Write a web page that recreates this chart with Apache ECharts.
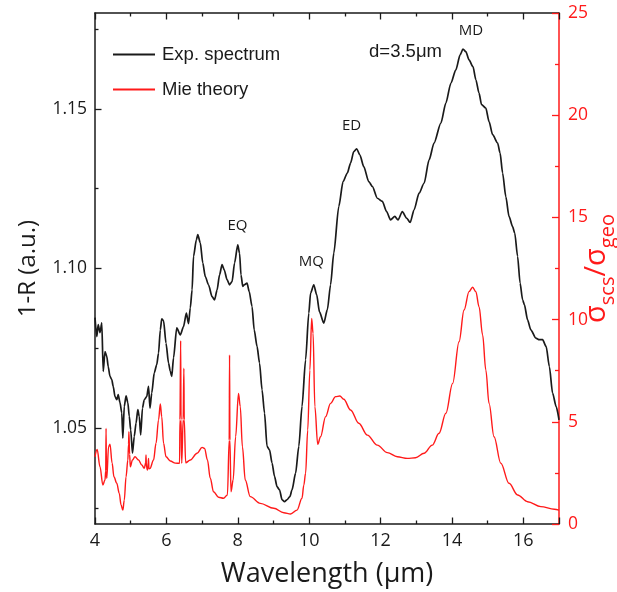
<!DOCTYPE html>
<html>
<head>
<meta charset="utf-8">
<script src="https://cdn.jsdelivr.net/npm/echarts@6/dist/echarts.min.js"></script>
<style>
  html, body { margin: 0; padding: 0; background: #fff; }
  #chart { width: 617px; height: 592px; }
</style>
</head>
<body>
<div id="chart"></div>
<script>
// Measured reflectance spectrum, 1-R (a.u.) against wavelength (µm)
const expWavelength = [
  4.00, 4.05, 4.09, 4.14, 4.19, 4.23, 4.28, 4.33, 4.37, 4.42, 4.47, 4.51, 4.56, 4.61, 4.65, 4.70,
  4.75, 4.78, 4.82, 4.87, 4.92, 4.96, 5.00, 5.05, 5.10, 5.15, 5.20, 5.24, 5.28, 5.33, 5.38, 5.45,
  5.50, 5.54, 5.59, 5.66, 5.73, 5.78, 5.83, 5.87, 5.92, 5.99, 6.06, 6.11, 6.15, 6.20, 6.29, 6.39,
  6.48, 6.56, 6.62, 6.67, 6.72, 6.76, 6.84, 6.88, 6.95, 7.02, 7.09, 7.18, 7.28, 7.35, 7.42, 7.49,
  7.56, 7.62, 7.70, 7.77, 7.84, 7.91, 8.00, 8.05, 8.09, 8.14, 8.18, 8.26, 8.32, 8.40, 8.46, 8.54,
  8.61, 8.68, 8.75, 8.82, 8.89, 8.96, 9.03, 9.10, 9.17, 9.24, 9.31, 9.38, 9.46, 9.52, 9.62, 9.71,
  9.80, 9.90, 9.99, 10.04, 10.13, 10.21, 10.29, 10.41, 10.51, 10.60, 10.69, 10.83, 10.95, 11.07,
  11.16, 11.25, 11.33, 11.42, 11.53, 11.67, 11.77, 11.91, 12.05, 12.17, 12.28, 12.40, 12.49, 12.61,
  12.73, 12.83, 12.94, 13.08, 13.22, 13.36, 13.50, 13.69, 13.83, 13.97, 14.11, 14.23, 14.31, 14.39,
  14.48, 14.59, 14.67, 14.76, 14.83, 14.95, 15.04, 15.14, 15.28, 15.35, 15.42, 15.51, 15.60, 15.70,
  15.76, 15.84, 15.91, 15.98, 16.03, 16.12, 16.21, 16.35, 16.45, 16.54, 16.64, 16.73, 16.82, 16.92,
  17.00
];
const expSignal = [
  1.0846, 1.0787, 1.0824, 1.0799, 1.0830, 1.0678, 1.0740, 1.0725, 1.0693, 1.0662, 1.0652, 1.0631, 1.0599, 1.0589, 1.0605, 1.0580,
  1.0548, 1.0469, 1.0568, 1.0601, 1.0580, 1.0537, 1.0495, 1.0422, 1.0474, 1.0516, 1.0558, 1.0537, 1.0479, 1.0563, 1.0589, 1.0599,
  1.0631, 1.0563, 1.0610, 1.0673, 1.0699, 1.0735, 1.0808, 1.0842, 1.0837, 1.0766, 1.0704, 1.0678, 1.0662, 1.0720, 1.0814, 1.0792,
  1.0818, 1.0860, 1.0827, 1.0877, 1.0933, 1.1038, 1.1090, 1.1106, 1.1080, 1.1017, 1.0975, 1.0949, 1.0912, 1.0902, 1.0933, 1.0980,
  1.1012, 1.0996, 1.0965, 1.0949, 1.0959, 1.1017, 1.1074, 1.1048, 1.0980, 1.0944, 1.0949, 1.0954, 1.0928, 1.0881, 1.0808, 1.0756,
  1.0704, 1.0620, 1.0547, 1.0443, 1.0432, 1.0391, 1.0349, 1.0317, 1.0307, 1.0276, 1.0270, 1.0276, 1.0286, 1.0307, 1.0359, 1.0443,
  1.0568, 1.0714, 1.0860, 1.0923, 1.0949, 1.0918, 1.0864, 1.0829, 1.0871, 1.0949, 1.1048, 1.1194, 1.1272, 1.1299,
  1.1330, 1.1366, 1.1375, 1.1356, 1.1319, 1.1272, 1.1257, 1.1220, 1.1210, 1.1178, 1.1152, 1.1163, 1.1152, 1.1178,
  1.1158, 1.1144, 1.1184, 1.1236, 1.1267, 1.1340, 1.1393, 1.1455, 1.1518, 1.1580, 1.1622, 1.1669, 1.1687, 1.1679,
  1.1653, 1.1632, 1.1591, 1.1549, 1.1513, 1.1502, 1.1460, 1.1419, 1.1393, 1.1361, 1.1299, 1.1225, 1.1163, 1.1131,
  1.1111, 1.1038, 1.0954, 1.0902, 1.0887, 1.0839, 1.0808, 1.0782, 1.0777, 1.0777, 1.0756, 1.0693, 1.0610, 1.0568,
  1.0526
];

// Mie theory: normalised scattering cross-section σscs/σgeo
const mieWavelength = [
  4.00, 4.06, 4.14, 4.22, 4.28, 4.30, 4.31, 4.32, 4.33, 4.38, 4.42, 4.48, 4.53, 4.61, 4.68, 4.73,
  4.78, 4.82, 4.87, 4.92, 4.94, 4.95, 4.97, 4.99, 5.05, 5.12, 5.22, 5.31, 5.38, 5.42, 5.43, 5.44,
  5.47, 5.49, 5.50, 5.51, 5.54, 5.64, 5.71, 5.78, 5.83, 5.87, 5.92, 5.99, 6.11, 6.25, 6.37, 6.38,
  6.40, 6.41, 6.43, 6.47, 6.49, 6.50, 6.54, 6.67, 6.86, 7.00, 7.07, 7.15, 7.23, 7.32, 7.46, 7.60,
  7.71, 7.76, 7.77, 7.78, 7.81, 7.87, 7.94, 8.02, 8.07, 8.13, 8.21, 8.35, 8.63, 9.01, 9.29, 9.48,
  9.66, 9.80, 9.85, 9.90, 9.96, 10.02, 10.07, 10.11, 10.16, 10.24, 10.32, 10.46, 10.60, 10.74, 10.86,
  10.97, 11.16, 11.39, 11.63, 11.91, 12.19, 12.47, 12.75, 12.98, 13.22, 13.45, 13.64, 13.83, 14.02,
  14.20, 14.34, 14.48, 14.58, 14.67, 14.76, 14.86, 14.95, 15.04, 15.18, 15.37, 15.60, 15.84, 16.12,
  16.49, 16.87, 17.00
];
const mieRatio = [
  3.29, 3.65, 2.80, 1.91, 2.15, 2.60, 4.68, 2.60, 2.24, 3.78, 3.91, 2.97, 2.31, 1.99, 1.50, 0.93,
  0.68, 1.17, 2.31, 3.13, 3.90, 4.52, 3.40, 2.80, 3.13, 3.29, 3.13, 2.89, 2.72, 3.00, 3.38, 2.80,
  2.64, 3.00, 3.21, 2.70, 2.72, 3.13, 3.95, 5.09, 5.87, 5.25, 3.95, 3.29, 3.08, 2.98, 2.97, 5.10,
  8.97, 5.10, 2.97, 5.10, 7.62, 5.10, 3.00, 3.13, 3.46, 3.75, 3.70, 3.13, 2.24, 1.58, 1.31, 1.26,
  1.42, 4.10, 8.27, 4.10, 1.58, 2.15, 4.27, 6.39, 5.74, 3.78, 2.15, 1.34, 1.01, 0.77, 0.55, 0.49,
  0.68, 1.26, 1.90, 2.48, 4.60, 7.53, 10.06, 9.33, 5.74, 3.90, 4.27, 5.25, 5.90, 6.23, 6.26,
  6.10, 5.58, 4.93, 4.35, 3.86, 3.49, 3.29, 3.21, 3.24, 3.46, 3.86, 4.44, 5.42, 6.88,
  8.92, 10.47, 11.37, 11.58, 11.37, 10.63, 9.25, 7.53, 5.90, 4.27, 2.97, 1.99, 1.42, 1.09,
  0.85, 0.72, 0.68
];

// Axis ticks and labels
const xLabelValues = [4, 6, 8, 10, 12, 14, 16];
const leftLabelValues = [1.05, 1.10, 1.15];
const leftMinorValues = [1.025, 1.075, 1.125, 1.175];

// Resonance annotations in data coordinates
const modeNames = ['EQ', 'MQ', 'ED', 'MD'];
const modeX = [7.99, 10.06, 11.19, 14.53];
const modeY = [1.1134, 1.1021, 1.1447, 1.1744];

const expPoints = expWavelength.map((w, i) => [w, expSignal[i]]);
const miePoints = mieWavelength.map((w, i) => [w, mieRatio[i]]);

const RED = '#ff1a1a';
const INK = '#1a1a1a';
const tickFont = '"Open Sans", "DejaVu Sans", sans-serif';
const legendFont = '"Liberation Sans", Arial, sans-serif';

const chart = echarts.init(document.getElementById('chart'), null, { renderer: 'canvas' });

chart.setOption({
  animation: false,
  backgroundColor: '#fff',
  grid: { left: 95, right: 58, top: 13, bottom: 68, containLabel: false, outerBoundsMode: 'none' },
  legend: {
    orient: 'vertical',
    left: 113,
    top: 45,
    icon: 'rect',
    itemWidth: 42,
    itemHeight: 2,
    itemGap: 16,
    padding: 0,
    textStyle: { fontFamily: legendFont, fontSize: 18.5, color: INK, padding: [0, 0, 0, 2] },
    data: ['Exp. spectrum', 'Mie theory']
  },
  xAxis: [
    {
      type: 'value', min: 4, max: 17, interval: 2,
      name: 'Wavelength (μm)', nameLocation: 'middle', nameGap: 37, nameMoveOverlap: false,
      nameTextStyle: { fontFamily: tickFont, fontSize: 27, color: INK },
      axisLine: { lineStyle: { color: INK, width: 1.5 } },
      axisTick: { inside: true, length: 6.5, lineStyle: { color: INK, width: 1.3 } },
      minorTick: { show: true, splitNumber: 2, length: 3.5, lineStyle: { color: INK, width: 1.3 } },
      axisLabel: { customValues: xLabelValues, margin: 8, fontFamily: tickFont, fontSize: 18, color: INK },
      splitLine: { show: false }
    },
    {
      type: 'value', position: 'top', min: 4, max: 17, interval: 2,
      axisLine: { lineStyle: { color: INK, width: 1.5 } },
      axisTick: { inside: true, length: 6.5, lineStyle: { color: INK, width: 1.3 } },
      minorTick: { show: true, splitNumber: 2, length: 3.5, lineStyle: { color: INK, width: 1.3 } },
      axisLabel: { show: false },
      splitLine: { show: false }
    }
  ],
  yAxis: [
    {
      type: 'value', position: 'left', min: 1.02, max: 1.18,
      name: '1-R (a.u.)', nameLocation: 'middle', nameGap: 55, nameRotate: 90, nameMoveOverlap: false,
      nameTextStyle: { fontFamily: tickFont, fontSize: 24, color: INK },
      axisLine: { show: true, lineStyle: { color: INK, width: 1.5 } },
      axisTick: { show: true, inside: true, length: 6.5, customValues: leftLabelValues, lineStyle: { color: INK, width: 1.3 } },
      axisLabel: { customValues: leftLabelValues, margin: 8, fontFamily: tickFont, fontSize: 17.5, color: INK,
                   formatter: v => v.toFixed(2) },
      splitLine: { show: false }
    },
    {
      type: 'value', position: 'right', min: 0, max: 25, interval: 5,
      name: '{s|σ}{b|scs}{s|/σ}{b|geo}', nameLocation: 'middle', nameGap: 17, nameRotate: 90,
      nameMoveOverlap: false,
      nameTextStyle: {
        color: RED,
        rich: {
          s: { fontFamily: tickFont, fontSize: 29, color: RED, lineHeight: 42 },
          b: { fontFamily: tickFont, fontSize: 20, color: RED, verticalAlign: 'bottom' }
        }
      },
      axisLine: { show: true, lineStyle: { color: RED, width: 1.5 } },
      axisTick: { show: true, inside: true, length: 7, lineStyle: { color: RED, width: 1.3 } },
      minorTick: { show: true, splitNumber: 2, length: 4, lineStyle: { color: RED, width: 1.3 } },
      axisLabel: { margin: 9, fontFamily: tickFont, fontSize: 17.5, color: RED },
      splitLine: { show: false }
    },
    {
      // minor ticks of the left axis
      type: 'value', position: 'left', min: 1.02, max: 1.18,
      axisLine: { show: false },
      axisTick: { show: true, inside: true, length: 3.5, customValues: leftMinorValues, lineStyle: { color: INK, width: 1.3 } },
      axisLabel: { show: false },
      splitLine: { show: false }
    }
  ],
  series: [
    {
      name: 'Exp. spectrum', type: 'line', xAxisIndex: 0, yAxisIndex: 0,
      data: expPoints, showSymbol: false, smooth: 0.25, smoothMonotone: 'x',
      lineStyle: { color: INK, width: 1.7 }, itemStyle: { color: INK },
      markPoint: {
        symbol: 'circle', symbolSize: 0,
        label: { show: true, position: 'inside', formatter: '{b}', fontFamily: tickFont, fontSize: 15, color: INK },
        data: modeNames.map((n, i) => ({ name: n, coord: [modeX[i], modeY[i]] }))
          .concat([{ name: 'd=3.5μm', coord: [12.70, 1.1678],
                     label: { fontFamily: legendFont, fontSize: 18.5 } }])
      },
      z: 3
    },
    {
      name: 'Mie theory', type: 'line', xAxisIndex: 0, yAxisIndex: 1,
      data: miePoints, showSymbol: false, smooth: 0.35, smoothMonotone: 'x',
      lineStyle: { color: RED, width: 1.4 }, itemStyle: { color: RED },
      z: 2
    }
  ]
});
</script>
</body>
</html>
